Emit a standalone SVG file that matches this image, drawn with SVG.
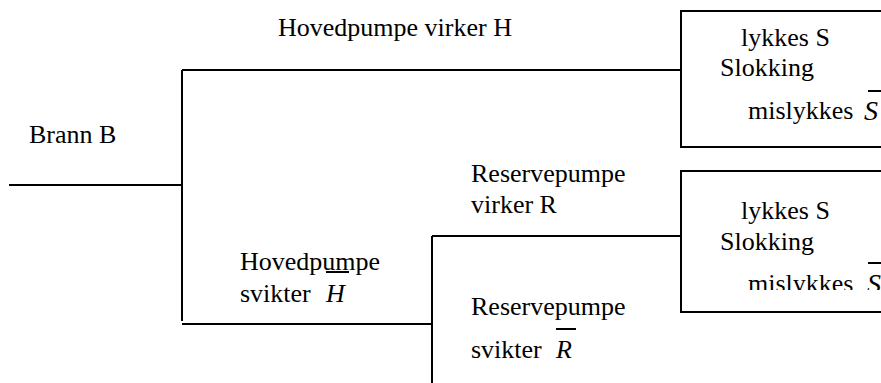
<svg xmlns="http://www.w3.org/2000/svg" width="881" height="383" viewBox="0 0 881 383">
<style>
text{font-family:"Liberation Serif","Times New Roman",serif;font-size:26px;fill:#000}
.it{font-style:italic}
.ln{stroke:#000;stroke-width:2;fill:none}
</style>
<defs>
<clipPath id="clip2"><rect x="681" y="171" width="200" height="119"/></clipPath>
</defs>
<rect width="881" height="383" fill="#fff"/>
<g id="connectors" class="ln">
<path d="M9 185H182"/>
<path d="M182 70V321"/>
<path d="M182 70H681"/>
<path d="M182 324H432"/>
<path d="M432 236V383"/>
<path d="M432 236H681"/>
<path d="M0 0"/>
</g>
<g id="label-brann"><text x="29" y="143">Brann B</text></g>
<g id="label-hoved-virker"><text x="278" y="36">Hovedpumpe virker H</text></g>
<g id="label-hoved-svikter">
<text x="240" y="270">Hovedpumpe</text>
<text x="240" y="302">svikter</text>
<text class="it" x="326" y="302">H</text>
<path class="ln" d="M326 272H349" stroke-width="1.5"/>
</g>
<g id="label-reserve-virker">
<text x="471" y="182">Reservepumpe</text>
<text x="471" y="213">virker R</text>
</g>
<g id="label-reserve-svikter">
<text x="471" y="315">Reservepumpe</text>
<text x="471" y="358">svikter</text>
<text class="it" x="556" y="358">R</text>
<path class="ln" d="M556 329H576" stroke-width="1.5"/>
</g>
<g id="box1">
<path class="ln" d="M881 11H681V147H881"/>
<text x="741" y="46">lykkes S</text>
<text x="720" y="76">Slokking</text>
<text x="748" y="119">mislykkes</text>
<text class="it" x="864" y="120" style="font-size:28px">S</text>
<path class="ln" d="M868 91H881" stroke-width="1.5"/>
</g>
<g id="box2">
<path class="ln" d="M881 171H681V312H881"/>
<text x="741" y="219">lykkes S</text>
<text x="720" y="250">Slokking</text>
<g clip-path="url(#clip2)">
<text x="748" y="292">mislykkes</text>
<text class="it" x="867" y="293" style="font-size:28px">S</text>
</g>
<path class="ln" d="M868 263H881" stroke-width="1.5"/>
</g>
</svg>
